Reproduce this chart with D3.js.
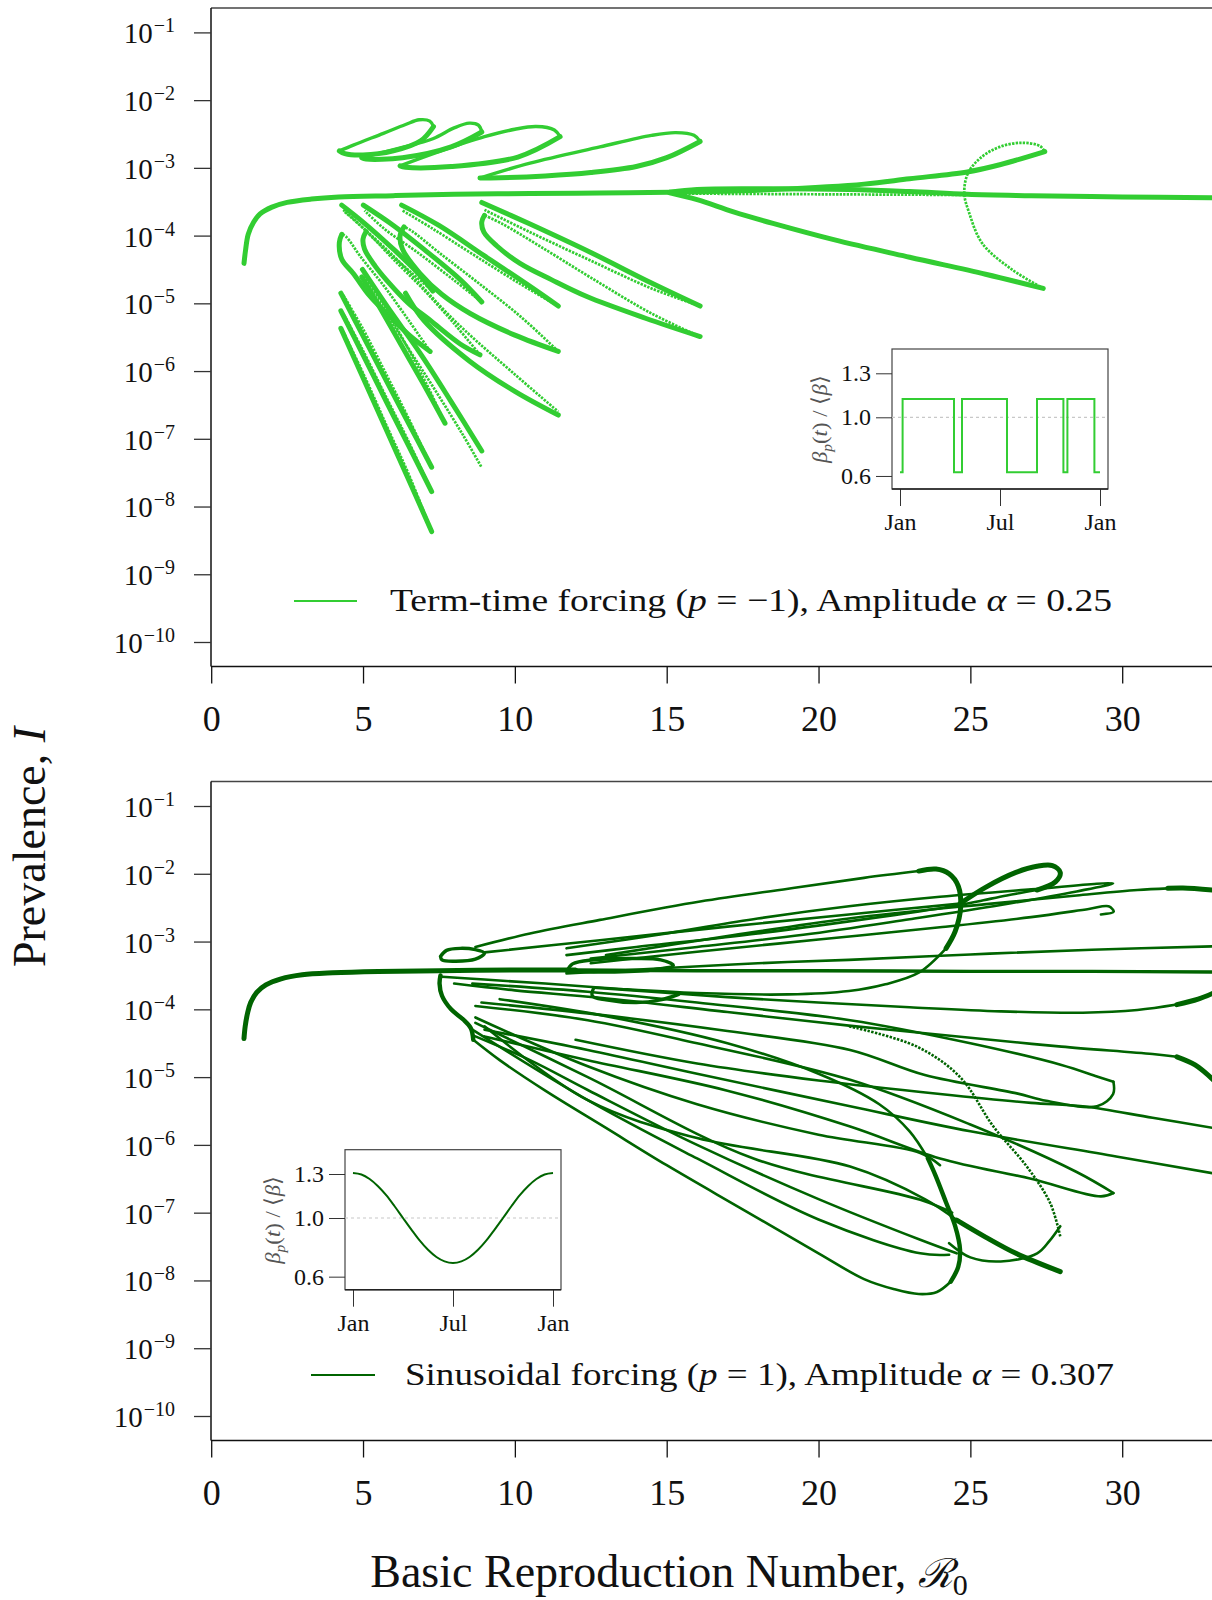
<!DOCTYPE html>
<html><head><meta charset="utf-8">
<script src="https://cdn.jsdelivr.net/npm/d3@7/dist/d3.min.js"></script>
<style>
body{margin:0;background:#fff;}
svg{display:block;font-family:"Liberation Serif","Times New Roman",serif;}
</style></head><body>
<svg id="c" width="1212" height="1600"></svg>
<script>
// ---------------- DATA: [R0, log10(I)] ----------------
const xTicks = [0,5,10,15,20,25,30];
const yExponents = [-1,-2,-3,-4,-5,-6,-7,-8,-9,-10];
const insetYTicks = [0.6,1.0,1.3];
const insetXTicks = [0,0.5,1];
const insetXLabels = ["Jan","Jul","Jan"];

// term-time forcing profile (time as fraction of year, value held until next time)
const termTimes  = [0,0.013,0.27,0.31,0.535,0.685,0.817,0.837,0.972,1.0];
const termValues = [0.625,1.125,0.625,1.125,0.625,1.125,0.625,1.125,0.625,0.625];
// sinusoidal forcing profile
const sinTimes  = [0,0.042,0.083,0.125,0.167,0.208,0.25,0.292,0.333,0.375,0.417,0.458,0.5,0.542,0.583,0.625,0.667,0.708,0.75,0.792,0.833,0.875,0.917,0.958,1.0];
const sinValues = [1.307,1.297,1.266,1.217,1.154,1.080,1.0,0.921,0.847,0.783,0.734,0.704,0.693,0.704,0.734,0.783,0.847,0.921,1.0,1.080,1.154,1.217,1.266,1.297,1.307];

// ---- top panel (term-time) branches ----
const termMain = [[1.08,-4.41],[1.13,-4.22],[1.22,-3.98],[1.4,-3.8],[1.61,-3.68],[2.0,-3.58],[2.5,-3.51],[3.3,-3.46],[4.2,-3.43],[6,-3.41],[8,-3.39],[10.5,-3.38],[12.8,-3.37],[15.1,-3.36]];
const termUpper = [[15.1,-3.36],[16,-3.32],[18,-3.31],[21,-3.32],[23,-3.35],[24.9,-3.39],[27,-3.41],[30,-3.43],[33,-3.44]];
const termMid = [[15.6,-3.38],[20,-3.39],[24.9,-3.40]];
const termP2Low = [[15.1,-3.37],[16,-3.47],[17.2,-3.65],[18.5,-3.82],[20.5,-4.06],[23,-4.32],[25.5,-4.57],[27.4,-4.78]];
const termP2Fold = [[27.4,-4.78],[26.4,-4.51],[25.4,-4.12],[24.95,-3.65],[24.8,-3.38],[24.92,-3.08],[25.37,-2.84],[25.97,-2.69],[26.7,-2.63],[27.3,-2.68],[27.45,-2.76]];
const termP2High = [[27.45,-2.76],[26,-2.95],[24.9,-3.06],[23,-3.16],[21.5,-3.24],[18.5,-3.32],[16.5,-3.35],[15.1,-3.36]];
const loopAUp = [[4.22,-2.75],[4.7,-2.66],[5.67,-2.49],[6.4,-2.36],[6.85,-2.29],[7.2,-2.31],[7.32,-2.39]];
const loopALow = [[7.32,-2.39],[6.9,-2.6],[6.0,-2.75],[5.0,-2.81],[4.4,-2.79],[4.22,-2.75]];
const loopBUp = [[4.96,-2.85],[6.2,-2.71],[7.3,-2.57],[8.0,-2.41],[8.5,-2.34],[8.8,-2.37],[8.91,-2.47]];
const loopBLow = [[8.91,-2.47],[7.9,-2.69],[6.3,-2.85],[5.1,-2.87],[4.96,-2.85]];
const loopCUp = [[6.22,-2.97],[7.5,-2.76],[9.0,-2.54],[10.0,-2.43],[10.7,-2.39],[11.3,-2.44],[11.49,-2.54]];
const loopCLow = [[11.49,-2.54],[10.1,-2.84],[7.9,-2.98],[6.4,-2.99],[6.22,-2.97]];
const loopDUp = [[8.85,-3.15],[10.5,-2.93],[12.8,-2.69],[14.5,-2.52],[15.3,-2.48],[15.9,-2.52],[16.1,-2.61]];
const loopDLow = [[16.1,-2.61],[15,-2.85],[14.0,-2.98],[12.5,-3.07],[11.0,-3.12],[9.2,-3.15],[8.85,-3.15]];
const p1Hi = [[4.30,-3.55],[5.0,-3.8],[6.0,-4.2],[6.8,-4.55],[7.3,-4.82]];
const p1Lo = [[7.3,-4.82],[6.6,-4.55],[5.6,-4.15],[4.8,-3.8],[4.35,-3.62]];
const p2Hi = [[5.01,-3.55],[6,-3.85],[7,-4.2],[8.2,-4.65],[8.91,-4.98]];
const p2Lo = [[8.91,-4.98],[8,-4.66],[6.8,-4.25],[5.7,-3.9],[5.05,-3.63]];
const p3Hi = [[6.27,-3.55],[7.5,-3.85],[9,-4.3],[10.5,-4.75],[11.43,-5.04]];
const p3Lo = [[11.43,-5.04],[10.2,-4.72],[8.7,-4.3],[7.3,-3.9],[6.3,-3.63]];
const p4Hi = [[8.91,-3.51],[10.5,-3.83],[12.5,-4.25],[14.5,-4.7],[16.1,-5.04]];
const p4Lo = [[16.1,-5.04],[14.5,-4.78],[12.5,-4.37],[10.5,-3.95],[9.0,-3.62]];
const q1Hi = [[4.3,-3.98],[4.22,-4.1],[4.3,-4.35],[4.68,-4.56],[5.2,-4.88],[5.78,-5.15],[6.6,-5.5],[7.21,-5.71]];
const q1Lo = [[7.21,-5.71],[6.5,-5.25],[5.7,-4.75],[4.9,-4.3],[4.45,-4.02],[4.3,-3.98]];
const q2Hi = [[5.1,-3.94],[5.0,-4.05],[5.05,-4.2],[5.4,-4.45],[5.78,-4.66],[6.5,-5.0],[7.21,-5.25],[8.2,-5.6],[8.85,-5.76]];
const q2Lo = [[8.85,-5.76],[8.0,-5.3],[7.0,-4.8],[6.0,-4.35],[5.3,-4.02],[5.1,-3.94]];
const q3Hi = [[6.35,-3.87],[6.22,-4.0],[6.3,-4.2],[6.88,-4.56],[7.6,-4.87],[8.53,-5.15],[10,-5.47],[11.43,-5.71]];
const q3Lo = [[11.43,-5.71],[10.2,-5.2],[8.8,-4.7],[7.5,-4.25],[6.6,-3.93],[6.35,-3.87]];
const q4Hi = [[9.0,-3.70],[8.91,-3.8],[8.98,-3.95],[9.4,-4.15],[10.17,-4.41],[11.2,-4.65],[12.37,-4.90],[14.3,-5.22],[16.1,-5.49]];
const q4Lo = [[16.1,-5.49],[14.5,-5.15],[12.5,-4.62],[10.8,-4.15],[9.6,-3.83],[9.0,-3.70]];
const r1Hi = [[4.96,-4.61],[5.6,-5.1],[6.3,-5.65],[7.0,-6.2],[7.70,-6.77]];
const r1Lo = [[7.70,-6.77],[7.1,-6.2],[6.4,-5.6],[5.7,-5.05],[5.05,-4.6]];
const r2Hi = [[4.98,-4.5],[5.8,-5.05],[6.9,-5.75],[7.9,-6.45],[8.91,-7.18]];
const r2Lo = [[8.89,-7.41],[8.3,-6.95],[7.4,-6.3],[6.4,-5.6],[5.4,-4.9],[5.0,-4.62]];
const r3Hi = [[6.4,-4.85],[7.0,-5.25],[8.5,-5.85],[10,-6.3],[11.43,-6.65]];
const r3Lo = [[4.4,-3.65],[6,-4.3],[8,-5.25],[10,-6.05],[11.43,-6.6]];
const s1Hi = [[4.27,-4.85],[5.0,-5.48],[5.8,-6.17],[6.5,-6.77],[7.26,-7.42]];
const s1Lo = [[7.26,-7.42],[6.5,-6.7],[5.8,-6.08],[5.0,-5.38],[4.35,-4.88]];
const s2Hi = [[4.27,-5.11],[5.0,-5.76],[5.8,-6.48],[6.5,-7.1],[7.26,-7.78]];
const s2Lo = [[7.26,-7.78],[6.5,-7.04],[5.8,-6.42],[5.0,-5.7],[4.35,-5.15]];
const s3Hi = [[4.27,-5.37],[5.0,-6.1],[5.8,-6.9],[6.5,-7.6],[7.26,-8.37]];
const s3Lo = [[7.26,-8.37],[6.5,-7.52],[5.8,-6.83],[5.0,-6.03],[4.35,-5.42]];

// ---- bottom panel (sinusoidal) branches ----
const sinMain = [[1.08,-4.43],[1.12,-4.25],[1.2,-4.05],[1.3,-3.9],[1.5,-3.75],[1.8,-3.64],[2.3,-3.55],[3,-3.49],[4,-3.46],[5.5,-3.44],[7.5,-3.43],[10,-3.42],[12,-3.42]];
const sinMainRight = [[12,-3.42],[16,-3.43],[20,-3.43],[25,-3.44],[29,-3.44],[33,-3.45]];
const sinSmallLoop = [[7.55,-3.22],[7.75,-3.13],[8.2,-3.10],[8.7,-3.12],[9.0,-3.17],[8.7,-3.26],[8.0,-3.29],[7.6,-3.27],[7.55,-3.22]];
const sinBigUpper = [[8.7,-3.08],[10.5,-2.88],[12.8,-2.68],[16.1,-2.41],[19,-2.22],[21.5,-2.06],[23.3,-1.96]];
const sinBigArc = [[23.3,-1.96],[23.87,-1.93],[24.3,-2.0],[24.6,-2.18],[24.68,-2.5],[24.5,-2.85],[24.2,-3.1]];
const sinBigLower = [[24.2,-3.1],[23.3,-3.46],[22.2,-3.63],[21.0,-3.73],[19,-3.78],[16,-3.76],[13.5,-3.7],[11,-3.62],[9,-3.56],[7.6,-3.52]];
const sinFigLine = [[9.0,-3.16],[12.8,-2.98],[17,-2.78],[21,-2.6],[24.66,-2.44]];
const sinFig8 = [[24.66,-2.44],[25.5,-2.2],[26.5,-1.98],[27.19,-1.89],[27.7,-1.88],[27.96,-1.98],[27.8,-2.12],[27.19,-2.24]];
const sinFigBack = [[27.19,-2.24],[26.2,-2.32],[25.43,-2.39],[24.66,-2.46],[22,-2.64],[18,-2.88],[14,-3.08],[11.7,-3.2]];
const sinWedge = [[11.7,-3.1],[15,-2.88],[18,-2.66],[21,-2.48],[24,-2.34],[27,-2.23],[29.7,-2.14],[28.5,-2.26],[26,-2.46],[23,-2.67],[19.5,-2.9],[16,-3.08],[12.5,-3.25]];
const sinHook = [[12.5,-3.32],[16,-3.15],[20,-2.97],[24,-2.79],[27,-2.64],[28.9,-2.52],[29.55,-2.48],[29.72,-2.56],[29.3,-2.6]];
const sinRightUp = [[13,-3.2],[17,-2.92],[21,-2.66],[25.7,-2.44],[28.5,-2.32],[30.5,-2.24],[31.5,-2.215]];
const sinRightUpEnd = [[31.5,-2.215],[32,-2.21],[33,-2.24]];
const sinRightLowEnd = [[33,-3.76],[32.5,-3.85],[31.8,-3.93]];
const sinRightLow = [[31.8,-3.93],[30.5,-4.01],[28.7,-4.05],[26,-4.03],[23,-3.97],[20,-3.9],[17,-3.82],[14.5,-3.74],[12.6,-3.68]];
const sinLine307 = [[11.7,-3.47],[15,-3.39],[18,-3.32],[21,-3.27],[25,-3.19],[29,-3.12],[33,-3.07]];
const sinMini1 = [[11.71,-3.44],[11.9,-3.33],[12.6,-3.27],[14.0,-3.25],[14.8,-3.27],[15.22,-3.35],[14.5,-3.42],[13,-3.45],[11.71,-3.44]];
const sinMini2 = [[12.6,-3.68],[12.55,-3.8],[13,-3.86],[14,-3.9],[14.8,-3.86],[15.4,-3.78]];
const sinLeftHook = [[7.55,-3.50],[7.52,-3.62],[7.6,-3.8],[7.9,-4.0],[8.3,-4.15],[8.55,-4.28],[8.63,-4.45]];
const sinX3 = [[8.0,-3.62],[10,-3.72],[12.8,-3.83],[17,-4.04],[21,-4.24],[25,-4.42],[28,-4.55],[31,-4.66],[31.8,-4.7]];
const sinX3End = [[31.8,-4.7],[32.4,-4.82],[33,-5.04]];
const sinPAUp = [[8.6,-3.62],[12.4,-3.74],[16,-3.9],[21.04,-4.16],[25,-4.5],[28,-4.82],[29.17,-4.99],[29.71,-5.07]];
const sinPALow = [[29.71,-5.07],[29.7,-5.25],[29.17,-5.43],[27.5,-5.35],[26.53,-5.24],[23.5,-4.97],[21.04,-4.6],[17,-4.32],[12.4,-4.06],[8.9,-3.9]];
const sinX1 = [[12,-4.45],[16,-4.8],[20,-5.05],[24,-5.25],[27,-5.38],[28.7,-5.43],[31,-5.6],[33,-5.75]];
const sinPBUp = [[8.7,-3.95],[12.4,-4.16],[16,-4.5],[21.04,-5.04],[25,-5.7],[28.5,-6.4],[29.71,-6.71]];
const sinPBLow = [[29.71,-6.71],[29.3,-6.76],[27,-6.5],[24,-6.2],[21.04,-5.73],[17,-5.2],[12.4,-4.75],[9,-4.4]];
const sinX2 = [[9,-4.3],[12.4,-4.6],[16,-4.95],[21.04,-5.43],[25,-5.8],[29.8,-6.17],[33,-6.42]];
const sinPC = [[8.6,-4.38],[10.5,-4.75],[12.4,-5.19],[16,-6.0],[20,-6.8],[23.35,-7.40],[24.55,-7.6]];
const sinPCArc = [[24.3,-7.45],[25,-7.66],[26,-7.72],[27.2,-7.6],[27.6,-7.42],[27.96,-7.2]];
const sinPCFold = [[27.96,-7.35],[27.63,-6.86],[26.86,-6.32],[25.76,-5.73],[24.66,-5.0],[23.24,-4.55],[21,-4.25]];
const sinThickBar = [[24.55,-7.11],[25.5,-7.36],[26.5,-7.6],[27.96,-7.87]];
const sinToBar = [[9,-4.25],[12.4,-5.34],[16,-5.9],[21.04,-6.32],[23.5,-6.8],[24.55,-7.11]];
const sinPD = [[8.63,-4.45],[9.5,-4.75],[11,-5.2],[13,-5.75],[15,-6.3],[17.5,-6.95],[20,-7.6],[21.5,-7.98],[22.5,-8.13],[23.3,-8.2],[23.9,-8.17],[24.35,-8.02]];
const sinPDUp = [[24.35,-8.02],[24.6,-7.8],[24.66,-7.55],[24.5,-7.2],[24.2,-6.85],[23.85,-6.45],[23.6,-6.2]];
const sinPDBack = [[23.6,-6.2],[23.0,-5.8],[22,-5.4],[20,-4.95],[17,-4.5],[13,-4.1],[9.5,-3.85]];
const sinPE = [[8.6,-4.3],[12.4,-5.34],[16,-6.2],[20,-7.1],[23.35,-7.60],[24.3,-7.62]];
const sinPF = [[8.7,-4.12],[12.4,-4.84],[16,-5.4],[20,-5.85],[23.35,-6.12],[24,-6.3]];
const sinPG = [[8.7,-4.2],[12.4,-5.0],[17.86,-6.2],[23.35,-6.81],[24.4,-7.0]];

// ---------------- CONFIG ----------------
const topBranches = [
  [termMain,"thick"],[termUpper,"thick"],[termMid,"thin"],[termP2Low,"thick"],[termP2Fold,"thin"],[termP2High,"thick"],
  [loopAUp,"med"],[loopALow,"thick"],[loopBUp,"med"],[loopBLow,"thick"],[loopCUp,"med"],[loopCLow,"thick"],[loopDUp,"med"],[loopDLow,"thick"],
  [p1Hi,"thick"],[p1Lo,"thin"],[p2Hi,"thick"],[p2Lo,"thin"],[p3Hi,"thick"],[p3Lo,"thin"],[p4Hi,"thick"],[p4Lo,"thin"],
  [q1Hi,"thick"],[q1Lo,"thin"],[q2Hi,"thick"],[q2Lo,"thin"],[q3Hi,"thick"],[q3Lo,"thin"],[q4Hi,"thick"],[q4Lo,"thin"],
  [r1Hi,"thick"],[r1Lo,"thin"],[r2Hi,"thick"],[r2Lo,"thin"],[r3Hi,"thick"],[r3Lo,"thin"],
  [s1Hi,"thick"],[s1Lo,"thin"],[s2Hi,"thick"],[s2Lo,"thin"],[s3Hi,"thick"],[s3Lo,"thin"]
];
const botBranches = [
  [sinMain,"thick"],[sinMainRight,"bmed"],[sinSmallLoop,"bmed"],[sinBigUpper,"bline"],[sinBigArc,"thick"],[sinBigLower,"bline"],
  [sinFigLine,"bline"],[sinFig8,"thick"],[sinFigBack,"bline"],[sinWedge,"bline"],[sinHook,"bline"],
  [sinRightUp,"bline"],[sinRightUpEnd,"thick"],[sinRightLowEnd,"thick"],[sinRightLow,"bline"],[sinLine307,"bline"],
  [sinMini1,"bmed"],[sinMini2,"bmed"],[sinLeftHook,"bthick"],[sinX3,"bline"],[sinX3End,"thick"],
  [sinPAUp,"bline"],[sinPALow,"bline"],[sinX1,"bline"],[sinPBUp,"bline"],[sinPBLow,"bline"],[sinX2,"bline"],
  [sinPC,"bline"],[sinPCArc,"bline"],[sinPCFold,"bdot"],[sinThickBar,"thick"],[sinToBar,"bline"],
  [sinPD,"bline"],[sinPDUp,"bthick"],[sinPDBack,"bline"],[sinPE,"bline"],[sinPF,"bline"],[sinPG,"bline"]
];
const styles = {
  thick:{w:5,dash:null}, med:{w:3.4,dash:null}, thin:{w:2.7,dash:"2.4,1.2"},
  bline:{w:2.6,dash:null}, bmed:{w:3.4,dash:null}, bthick:{w:4.4,dash:null}, bdot:{w:2.6,dash:"2.4,1.4"}
};

const svg = d3.select("#c");
const FONT = '"Liberation Serif","Times New Roman",serif';

function drawPanel(p){
  const x = d3.scaleLinear().domain([0,30]).range([211.2,1122.2]);
  const y = d3.scaleLog().domain([1e-1,1e-10]).range([p.y1,p.y10]);
  const g = svg.append("g");
  const cid = "clip"+p.id;
  svg.append("clipPath").attr("id",cid).append("rect")
    .attr("x",211).attr("y",p.top).attr("width",1001).attr("height",p.axisY-p.top);
  const line = d3.line().x(d=>x(d[0])).y(d=>y(Math.pow(10,d[1]))).curve(d3.curveCatmullRom.alpha(0.5));
  const cg = g.append("g").attr("clip-path",`url(#${cid})`);
  p.branches.forEach(([pts,st])=>{
    const s = styles[st];
    cg.append("path").attr("d",line(pts)).attr("fill","none").attr("stroke",p.color)
      .attr("stroke-width",s.w).attr("stroke-linecap",s.dash?"butt":"round").attr("stroke-linejoin","round")
      .attr("stroke-dasharray",s.dash);
  });
  // frame
  g.append("line").attr("x1",211).attr("x2",1212).attr("y1",p.top).attr("y2",p.top).attr("stroke","#444").attr("stroke-width",1.5);
  g.append("line").attr("x1",211).attr("x2",211).attr("y1",p.top).attr("y2",p.axisY).attr("stroke","#111").attr("stroke-width",1.5);
  g.append("line").attr("x1",211).attr("x2",1212).attr("y1",p.axisY).attr("y2",p.axisY).attr("stroke","#111").attr("stroke-width",1.6);
  // y axis
  const ya = g.append("g").attr("transform","translate(211,0)")
    .call(d3.axisLeft(y).tickValues(yExponents.map(e=>Math.pow(10,e))).tickSize(17).tickPadding(19).tickFormat(""));
  ya.select(".domain").remove();
  ya.selectAll(".tick line").attr("stroke","#333").attr("stroke-width",1.3);
  ya.selectAll(".tick text").each(function(d,i){
    const t = d3.select(this).attr("font-family",FONT).attr("font-size",29).attr("fill","#111").attr("dy","0.36em");
    t.append("tspan").text("10");
    t.append("tspan").attr("dx",1).attr("dy",-11).attr("font-size",20).text("\u2212"+(-yExponents[i]));
  });
  // x axis
  const xa = g.append("g").attr("transform",`translate(0,${p.axisY})`)
    .call(d3.axisBottom(x).tickValues(xTicks).tickSize(17).tickFormat(d3.format("d")));
  xa.select(".domain").remove();
  xa.selectAll(".tick line").attr("stroke","#111").attr("stroke-width",1.3);
  xa.selectAll(".tick text").attr("font-family",FONT).attr("font-size",36).attr("fill","#111").attr("y",0).attr("dy",64);
  // legend
  g.append("line").attr("x1",p.leg.x1).attr("x2",p.leg.x2).attr("y1",p.leg.y).attr("y2",p.leg.y).attr("stroke",p.color).attr("stroke-width",2);
  const lt = g.append("text").attr("x",p.leg.tx).attr("y",p.leg.y+10).attr("font-family",FONT).attr("font-size",32).attr("fill","#111")
    .attr("textLength",p.leg.len).attr("lengthAdjust","spacingAndGlyphs");
  p.leg.parts.forEach(([s,it])=>lt.append("tspan").attr("font-style",it?"italic":null).text(s));
  // inset
  drawInset(p.inset, p.color);
}

function drawInset(ins, color){
  const g = svg.append("g");
  const ix = d3.scaleLinear().domain([0,1]).range([ins.x0, ins.x0+200]);
  const iy = d3.scaleLinear().domain([1.0,1.3]).range([ins.y1, ins.y1-44]);
  const bx0 = ins.x0-8, bx1 = ins.x0+208, by0 = ins.y1-68.3, by1 = ins.y1+71.7;
  g.append("rect").attr("x",bx0).attr("y",by0).attr("width",bx1-bx0).attr("height",by1-by0).attr("fill","#fff").attr("stroke","#444").attr("stroke-width",1.2);
  g.append("line").attr("x1",bx0).attr("x2",bx1).attr("y1",iy(1.0)).attr("y2",iy(1.0)).attr("stroke","#c8c8c8").attr("stroke-width",1.2).attr("stroke-dasharray","3,3");
  const ya = g.append("g").attr("transform",`translate(${bx0},0)`)
    .call(d3.axisLeft(iy).tickValues(insetYTicks).tickSize(16).tickPadding(5).tickFormat(d3.format(".1f")));
  ya.select(".domain").remove();
  ya.selectAll(".tick line").attr("stroke","#333");
  ya.selectAll(".tick text").attr("font-family",FONT).attr("font-size",24).attr("fill","#111");
  const xa = g.append("g").attr("transform",`translate(0,${by1})`)
    .call(d3.axisBottom(ix).tickValues(insetXTicks).tickSize(17).tickFormat((d,i)=>insetXLabels[i]));
  xa.select(".domain").remove();
  xa.selectAll(".tick line").attr("stroke","#333");
  xa.selectAll(".tick text").attr("font-family",FONT).attr("font-size",24).attr("fill","#111").attr("y",0).attr("dy",41);
  g.append("line").attr("x1",bx0).attr("x2",bx1).attr("y1",by1).attr("y2",by1).attr("stroke","#222").attr("stroke-width",1.6);
  const pts = ins.times.map((t,i)=>[t,ins.values[i]]);
  g.append("path").attr("d",d3.line().x(d=>ix(d[0])).y(d=>iy(d[1])).curve(ins.curve)(pts))
    .attr("fill","none").attr("stroke",color).attr("stroke-width",2);
  // y label
  const lt = g.append("text").attr("transform",`translate(${bx0-65},${(by0+by1)/2}) rotate(-90)`)
    .attr("text-anchor","middle").attr("font-family",FONT).attr("font-size",22).attr("fill","#555")
    .attr("textLength",88).attr("lengthAdjust","spacingAndGlyphs");
  lt.append("tspan").attr("font-style","italic").text("β");
  lt.append("tspan").attr("font-style","italic").attr("font-size",15).attr("dy",5).text("p");
  lt.append("tspan").attr("dy",-5).text("(");
  lt.append("tspan").attr("font-style","italic").text("t");
  lt.append("tspan").text(") / ⟨");
  lt.append("tspan").attr("font-style","italic").text("β");
  lt.append("tspan").text("⟩");
}

drawPanel({id:"t", top:8, axisY:666.5, y1:32.4, y10:642, color:"#32cd32", branches:topBranches,
  leg:{x1:294,x2:357,y:601,tx:390,len:722,parts:[["Term-time forcing (",0],["p",1],[" = \u22121), Amplitude ",0],["α",1],[" = 0.25",0]]},
  inset:{x0:900,y1:417.3,times:termTimes,values:termValues,curve:d3.curveStepAfter}});
drawPanel({id:"b", top:781.5, axisY:1440.5, y1:806, y10:1416, color:"#006400", branches:botBranches,
  leg:{x1:311,x2:375,y:1375,tx:405,len:709,parts:[["Sinusoidal forcing (",0],["p",1],[" = 1), Amplitude ",0],["α",1],[" = 0.307",0]]},
  inset:{x0:353,y1:1218,times:sinTimes,values:sinValues,curve:d3.curveMonotoneX}});

// axis titles
svg.append("text").attr("x",669).attr("y",1587).attr("text-anchor","middle").attr("font-family",FONT).attr("font-size",46).attr("fill","#111")
  .call(t=>{t.append("tspan").text("Basic Reproduction Number, ");
            t.append("tspan").attr("font-family",'"DejaVu Serif",serif').attr("font-style","italic").attr("font-size",40).text("ℛ");
            t.append("tspan").attr("font-size",30).attr("dy",8).text("0");});
svg.append("text").attr("transform","translate(45,847) rotate(-90)").attr("text-anchor","middle").attr("font-family",FONT).attr("font-size",46).attr("fill","#111")
  .call(t=>{t.append("tspan").text("Prevalence, "); t.append("tspan").attr("font-style","italic").text("I");});
</script></body></html>
